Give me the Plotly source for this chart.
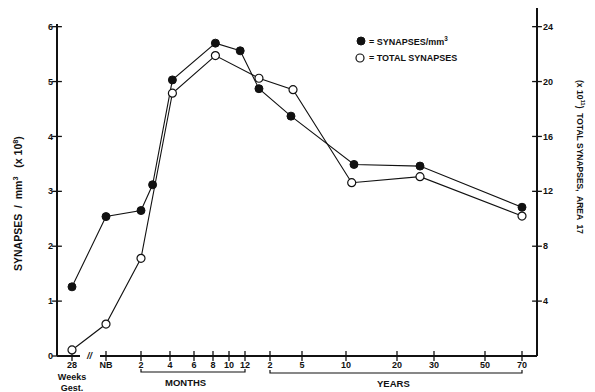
import numpy as np
import plotly.graph_objects as go

# ---------------- data ----------------
# ages in months after birth (28 weeks gestation ~ -3 months)
tick_ages = [-3, 0, 2, 4, 6, 8, 10, 12, 24, 60, 120, 240, 360, 600, 840]
tick_labels = ["28<br>Weeks<br>Gest.", "NB", "2", "4", "6", "8", "10", "12",
               "2", "5", "10", "20", "30", "50", "70"]

density_ages = [-3, 0, 2, 2.8, 4.2, 8.3, 11.4, 18.7, 47.6, 138.8, 314.6, 840]
density_vals = [1.26, 2.54, 2.65, 3.12, 5.03, 5.70, 5.56, 4.87, 4.37, 3.49, 3.46, 2.71]

total_ages = [-3, 0, 2, 4.2, 8.3, 18.7, 49.9, 133.4, 314.6, 840]
total_vals = [0.44, 2.33, 7.12, 19.15, 21.89, 20.24, 19.41, 12.63, 13.07, 10.20]

left_ticks = [0, 1, 2, 3, 4, 5, 6]
right_ticks = [4, 8, 12, 16, 20, 24]

# ---------------- custom (broken) age scale ----------------
axis_slots = [15, 49, 84, 113, 137, 156, 172, 188, 213, 245, 289, 340, 377, 428, 465]


def age_scale(a):
    return np.interp(a, tick_ages, axis_slots)


tick_x = age_scale(tick_ages)
dens_x = age_scale(density_ages)
tot_x = age_scale(total_ages)

# page body margin offset (html body adds 8px)
OFF = 8
W, H = 595, 392
L, R, T, B = 57, 58, 8, 36
PW, PH = W - L - R, H - T - B


def px(x):
    return (x - L) / PW


def py(y):
    return (H - B - y) / PH


FONT = "Liberation Sans"
ink = "#111111"

fig = go.Figure()

# tick crosses
fig.add_trace(go.Scatter(x=tick_x, y=[0] * len(tick_x), mode="markers",
                         marker=dict(symbol="line-ns", size=7, line=dict(color=ink, width=1.3)),
                         cliponaxis=False, hoverinfo="skip", showlegend=False))
fig.add_trace(go.Scatter(x=[0] * len(left_ticks), y=left_ticks, mode="markers",
                         marker=dict(symbol="line-ew", size=7, line=dict(color=ink, width=1.3)),
                         cliponaxis=False, hoverinfo="skip", showlegend=False))
fig.add_trace(go.Scatter(x=[PW] * len(right_ticks), y=right_ticks, yaxis="y2", mode="markers",
                         marker=dict(symbol="line-ew", size=7, line=dict(color=ink, width=1.3)),
                         cliponaxis=False, hoverinfo="skip", showlegend=False))

# data series
fig.add_trace(go.Scatter(x=tot_x, y=total_vals, yaxis="y2", mode="lines+markers",
                         line=dict(color=ink, width=1.1),
                         marker=dict(symbol="circle", size=8, color="white",
                                     line=dict(color=ink, width=1.2)),
                         cliponaxis=False, name="TOTAL SYNAPSES", showlegend=False))
fig.add_trace(go.Scatter(x=dens_x, y=density_vals, mode="lines+markers",
                         line=dict(color=ink, width=1.1),
                         marker=dict(symbol="circle", size=8, color=ink,
                                     line=dict(color=ink, width=1)),
                         cliponaxis=False, name="SYNAPSES/mm3", showlegend=False))

shapes = []
# left axis line
shapes.append(dict(type="line", xref="paper", yref="paper", x0=0, x1=0, y0=0, y1=py(24),
                   line=dict(color=ink, width=2)))
# right axis line
shapes.append(dict(type="line", xref="paper", yref="paper", x0=1, x1=1, y0=0, y1=1,
                   line=dict(color=ink, width=2)))
# broken x axis
shapes.append(dict(type="line", xref="paper", yref="paper", x0=0, x1=px(80), y0=0, y1=0,
                   line=dict(color=ink, width=2)))
shapes.append(dict(type="line", xref="paper", yref="paper", x0=px(100), x1=1, y0=0, y1=0,
                   line=dict(color=ink, width=2)))
# brackets for MONTHS / YEARS
m0, m1 = px(L + tick_x[2]), px(L + tick_x[7])
y0, y1 = px(L + tick_x[8]), px(L + tick_x[14])
for a, b, yy in [(m0, m1, 372), (y0, y1, 373)]:
    shapes.append(dict(type="path", xref="paper", yref="paper",
                       path=f"M {a},{py(yy - 3)} L {a},{py(yy)} L {b},{py(yy)} L {b},{py(yy - 3)}",
                       line=dict(color=ink, width=1.2)))

# legend markers
shapes.append(dict(type="circle", xref="paper", yref="paper", xsizemode="pixel", ysizemode="pixel",
                   xanchor=px(361), yanchor=py(41), x0=-4, x1=4, y0=-4, y1=4,
                   fillcolor=ink, line=dict(color=ink, width=1)))
shapes.append(dict(type="circle", xref="paper", yref="paper", xsizemode="pixel", ysizemode="pixel",
                   xanchor=px(360), yanchor=py(58), x0=-4, x1=4, y0=-4, y1=4,
                   fillcolor="white", line=dict(color=ink, width=1.2)))

bold = dict(family=FONT, color=ink, weight="bold")

annotations = [
    dict(text="= SYNAPSES/mm<sup>3</sup>", x=px(367), y=py(41), xref="paper", yref="paper",
         xanchor="left", yanchor="middle", showarrow=False, font=dict(size=9, **bold)),
    dict(text="= TOTAL SYNAPSES", x=px(367), y=py(58), xref="paper", yref="paper",
         xanchor="left", yanchor="middle", showarrow=False, font=dict(size=9, **bold)),
    dict(text="SYNAPSES  /  mm<sup>3</sup>   (x 10<sup>8</sup>)", textangle=-90,
         x=px(17), y=py(204), xref="paper", yref="paper", xanchor="center", yanchor="middle",
         showarrow=False, font=dict(size=10.5, **bold)),
    dict(text="(x 10<sup>11</sup>)  TOTAL SYNAPSES,  AREA  17", textangle=90,
         x=px(580), y=py(157), xref="paper", yref="paper", xanchor="center", yanchor="middle",
         showarrow=False, font=dict(size=8.5, **bold)),
    dict(text="MONTHS", x=px(185), y=py(382), xref="paper", yref="paper",
         xanchor="center", yanchor="middle", showarrow=False, font=dict(size=9.5, **bold)),
    dict(text="YEARS", x=px(393), y=py(383), xref="paper", yref="paper",
         xanchor="center", yanchor="middle", showarrow=False, font=dict(size=9.5, **bold)),
    dict(text="<i>//</i>", x=px(90), y=py(356), xref="paper", yref="paper",
         xanchor="center", yanchor="middle", showarrow=False, font=dict(size=9, **bold)),
]

fig.update_layout(
    template="none",
    width=W - OFF, height=H - OFF,
    margin=dict(l=L - OFF, r=R, t=T - OFF, b=B, pad=0, autoexpand=False),
    paper_bgcolor="white", plot_bgcolor="white",
    showlegend=False,
    shapes=shapes, annotations=annotations,
    xaxis=dict(range=[0, PW], tickvals=tick_x, ticktext=tick_labels, ticks="",
               showline=False, showgrid=False, zeroline=False, ticklabelstandoff=2,
               automargin=False, tickfont=dict(size=9, **bold)),
    yaxis=dict(range=[0, 6.34], tickvals=left_ticks, ticks="", showline=False,
               showgrid=False, zeroline=False, ticklabelstandoff=3, automargin=False,
               tickfont=dict(size=9, **bold)),
    yaxis2=dict(range=[0, 25.36], overlaying="y", side="right", tickvals=right_ticks,
                ticks="", showline=False, showgrid=False, zeroline=False,
                ticklabelstandoff=5, automargin=False, tickfont=dict(size=9, **bold)),
)

fig.write_html("out.html")
